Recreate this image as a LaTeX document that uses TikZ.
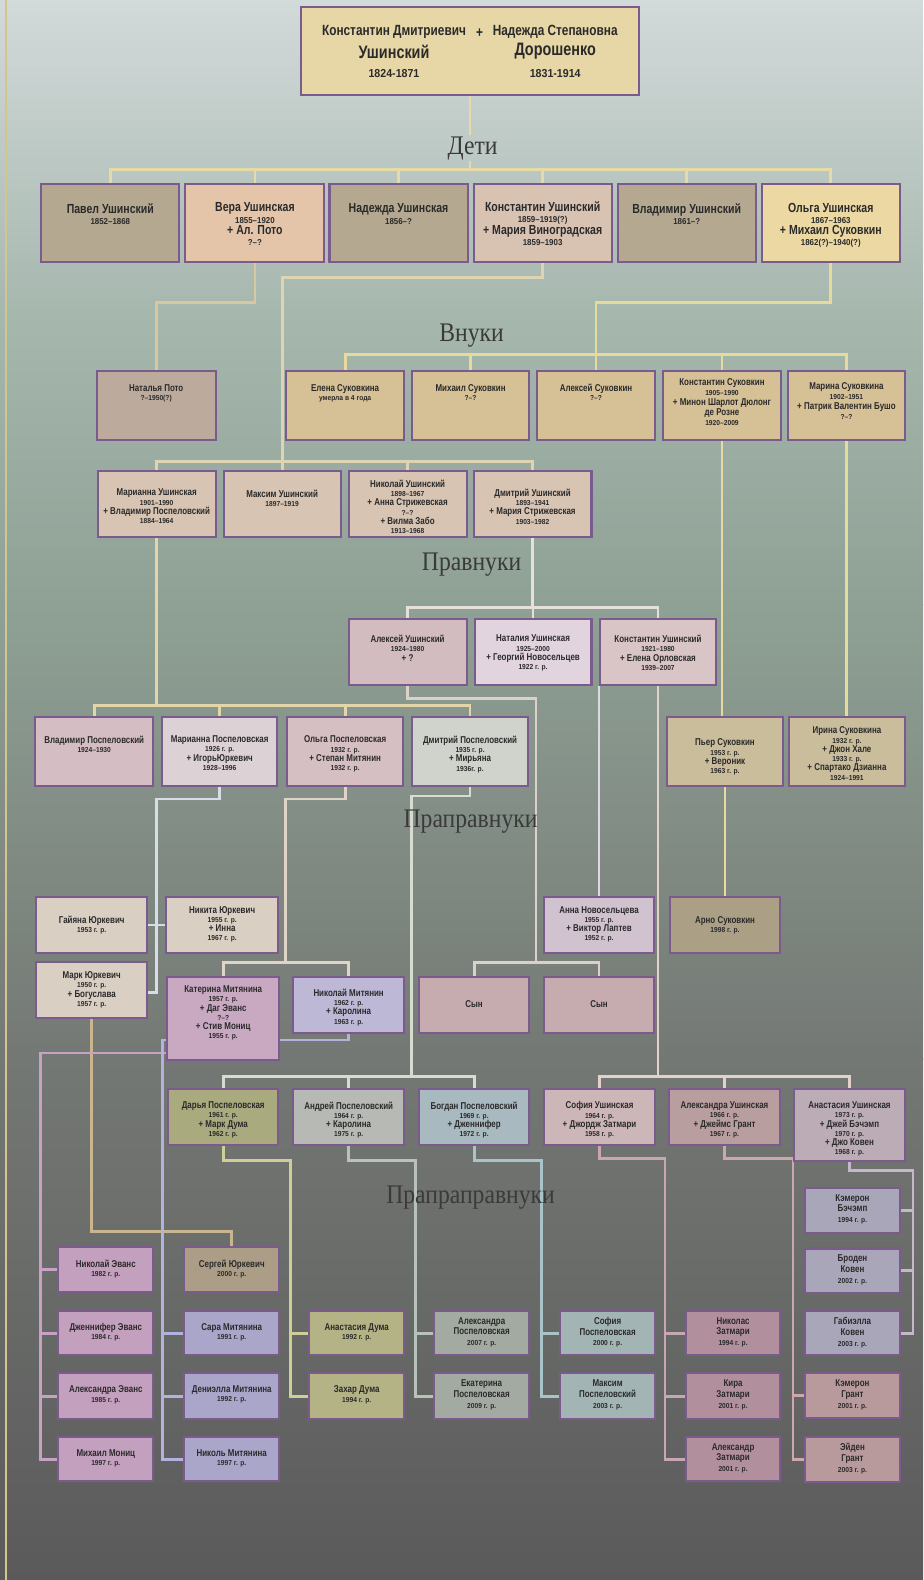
\documentclass[tikz,border=0pt]{standalone}
\usepackage{fontspec}
\newfontfamily\cond{Liberation Sans}[FakeStretch=0.8]
\newfontfamily\condY{Liberation Sans}[FakeStretch=0.92]
\newfontfamily\lblf{Liberation Serif}[FakeStretch=0.88]
\usetikzlibrary{calc}
\pgfdeclarelayer{bgl}
\pgfdeclarelayer{lnl}
\pgfsetlayers{bgl,lnl,main}
% colours
\definecolor{bord}{HTML}{7B5B8E}
\definecolor{txtc}{HTML}{2A2A2A}
\definecolor{labc}{HTML}{3A3A3A}
\definecolor{bgA}{HTML}{D3DADA}
\definecolor{bgB}{HTML}{A7B8AF}
\definecolor{bgC}{HTML}{8FA195}
\definecolor{bgD}{HTML}{747874}
\definecolor{bgE}{HTML}{5A5A5A}
\definecolor{edge}{HTML}{D4C48E}
\definecolor{fTop}{HTML}{E7D6A6}
\definecolor{fGray}{HTML}{B4A890}
\definecolor{fVera}{HTML}{E4C5AA}
\definecolor{fKU}{HTML}{D8C2B2}
\definecolor{fOl}{HTML}{ECD8A2}
\definecolor{fNat}{HTML}{BCAB9C}
\definecolor{fSuk}{HTML}{D6C096}
\definecolor{fPrav}{HTML}{D7C4B3}
\definecolor{fRa}{HTML}{D2BCC0}
\definecolor{fRb}{HTML}{E2D4DF}
\definecolor{fRc}{HTML}{D9C5C6}
\definecolor{fSa}{HTML}{D4BEC3}
\definecolor{fSb}{HTML}{DCD2D6}
\definecolor{fSc}{HTML}{D6BFC3}
\definecolor{fSd}{HTML}{CFD3CC}
\definecolor{fPier}{HTML}{C9BD9C}
\definecolor{fU}{HTML}{D9CFC3}
\definecolor{fVa}{HTML}{C9A8C1}
\definecolor{fVb}{HTML}{BCB8D6}
\definecolor{fSon}{HTML}{C6ACAF}
\definecolor{fAnna}{HTML}{D0C2CF}
\definecolor{fArno}{HTML}{AB9F86}
\definecolor{fTa}{HTML}{A9AA7E}
\definecolor{fTb}{HTML}{B7BAB4}
\definecolor{fTc}{HTML}{A9B9C0}
\definecolor{fTd}{HTML}{CDB6B8}
\definecolor{fTe}{HTML}{B99E9F}
\definecolor{fTf}{HTML}{BBACB6}
\definecolor{fA}{HTML}{C3A0BD}
\definecolor{fBa}{HTML}{AB9D86}
\definecolor{fB}{HTML}{A9A6CA}
\definecolor{fC}{HTML}{B4B386}
\definecolor{fD}{HTML}{A3AAA2}
\definecolor{fE}{HTML}{A3B4B5}
\definecolor{fF}{HTML}{B28F9D}
\definecolor{fK}{HTML}{A9A6B9}
\definecolor{fH}{HTML}{B89A9C}
% connector colours
\definecolor{cTop}{HTML}{E6DBA8}
\definecolor{cVera}{HTML}{D9C7A0}
\definecolor{cKU}{HTML}{DED3B3}
\definecolor{cOl}{HTML}{E8DA9E}
\definecolor{cDm}{HTML}{E6E0DA}
\definecolor{cMa}{HTML}{E3D5AA}
\definecolor{cAl}{HTML}{DCD0C8}
\definecolor{cNa}{HTML}{E0D8E0}
\definecolor{cKo}{HTML}{E2D2CA}
\definecolor{cYu}{HTML}{D8DCE6}
\definecolor{cMi}{HTML}{E0D4C8}
\definecolor{cDp}{HTML}{D6DCD0}
\definecolor{cMk}{HTML}{C9B68E}
\definecolor{cA}{HTML}{C8A2C4}
\definecolor{cB}{HTML}{B2B2DC}
\definecolor{cC}{HTML}{CFCE98}
\definecolor{cD}{HTML}{B6C2BA}
\definecolor{cE}{HTML}{A8C4C8}
\definecolor{cF}{HTML}{C8A6B4}
\definecolor{cK}{HTML}{C6B8CA}
\definecolor{cH}{HTML}{CCA8AC}
% text macros
\newcommand\Nbig[1]{{\cond\bfseries\fontsize{9.8}{10}\selectfont #1}}
\newcommand\Ybig[1]{{\condY\bfseries\fontsize{6.4}{7}\selectfont #1}}
\newcommand\Nsm[1]{{\cond\bfseries\fontsize{7.4}{8}\selectfont #1}}
\newcommand\Ysm[1]{{\condY\bfseries\fontsize{5.4}{6}\selectfont #1}}
\tikzset{
  box/.style={draw=bord, line width=1.5pt, rectangle, inner sep=0pt},
  txt/.style={anchor=north, align=center, inner sep=0pt, text=txtc,
    font={\fontsize{6}{6.9}\selectfont\lineskiplimit=-10pt}},
  tA/.style={font={\fontsize{6}{8.4}\selectfont\lineskiplimit=-10pt}},
  tC/.style={font={\fontsize{6}{7.6}\selectfont\lineskiplimit=-10pt}},
  tD/.style={font={\fontsize{6}{8}\selectfont\lineskiplimit=-10pt}},
  lab/.style={font={\lblf\fontsize{20}{22}\selectfont}, text=labc, inner sep=1pt},
  ln/.style={draw=#1, line width=2.1pt},
}
% box: [text opts]{name}{x1}{y1}{x2}{y2}{fill}{text top}{text}
\newcommand\bx[9][]{%
  \node[box,fill=#7,minimum width={(#5-#3)*0.75pt},minimum height={(#6-#4)*0.75pt}] (#2) at ({(#3+#5)/2},{(#4+#6)/2}) {};
  \node[txt,#1] (#2t) at ({(#3+#5)/2},#8) {#9};}
\begin{document}
\begin{tikzpicture}[x=0.75pt,y=-0.75pt]
\useasboundingbox (0,0) rectangle (916,1568);
\begin{pgfonlayer}{bgl}
\shade[top color=bgA,bottom color=bgB] (0,0) rectangle (916,301);
\shade[top color=bgB,bottom color=bgC] (0,300) rectangle (916,601);
\shade[top color=bgC,bottom color=bgD] (0,600) rectangle (916,1051);
\shade[top color=bgD,bottom color=bgE] (0,1050) rectangle (916,1568);
\draw[edge,line width=1.3pt] (6,0) -- (6,1568);
\end{pgfonlayer}

% ---------- top couple ----------
\node[box,fill=fTop,minimum width={335*0.75pt},minimum height={87*0.75pt}] (top) at (466.5,50.5) {};
\node[text=txtc,font={\cond\bfseries\fontsize{11}{12}\selectfont}] (tk1) at (391,32) {Константин Дмитриевич};
\node[text=txtc,font={\cond\bfseries\fontsize{11}{12}\selectfont}] (tplus) at (476,33) {+};
\node[text=txtc,font={\cond\bfseries\fontsize{11}{12}\selectfont}] (tn1) at (551,32) {Надежда Степановна};
\node[text=txtc,font={\cond\bfseries\fontsize{13.4}{14}\selectfont}] (tk2) at (391,51) {Ушинский};
\node[text=txtc,font={\cond\bfseries\fontsize{13.4}{14}\selectfont}] (tn2) at (551,51) {Дорошенко};
\node[text=txtc,font={\condY\bfseries\fontsize{8.6}{9}\selectfont}] (tk3) at (391,73) {1824-1871};
\node[text=txtc,font={\condY\bfseries\fontsize{8.6}{9}\selectfont}] (tn3) at (551,73) {1831-1914};

% ---------- generation labels ----------
\node[lab] (Ldeti) at (469,147) {Дети};
\node[lab] (Lvnuki) at (468,333) {Внуки};
\node[lab] (Lprav) at (468,560) {Правнуки};
\node[lab] (Lprapr) at (467,815) {Праправнуки};
\node[lab] (Lpraprapr) at (467,1188) {Прапраправнуки};

% ---------- children ----------
\bx[tA]{P1}{41}{183}{178}{260}{fGray}{202}{\Nbig{Павел Ушинский}\\\Ybig{1852–1868}}
\bx[tA]{P2}{184}{183}{322}{260}{fVera}{201}{\Nbig{Вера Ушинская}\\\Ybig{1855–1920}\\\Nbig{+ Ал. Пото}\\\Ybig{?–?}}
\bx[tA]{P3}{327}{183}{464}{260}{fGray}{202}{\Nbig{Надежда Ушинская}\\\Ybig{1856–?}}
\bx[tA]{P4}{470}{183}{607}{260}{fKU}{200}{\Nbig{Константин Ушинский}\\\Ybig{1859–1919(?)}\\\Nbig{+ Мария Виноградская}\\\Ybig{1859–1903}}
\bx[tA]{P5}{613}{183}{750}{260}{fGray}{202}{\Nbig{Владимир Ушинский}\\\Ybig{1861–?}}
\bx[tA]{P6}{756}{183}{893}{260}{fOl}{201}{\Nbig{Ольга Ушинская}\\\Ybig{1867–1963}\\\Nbig{+ Михаил Суковкин}\\\Ybig{1862(?)–1940(?)}}

% ---------- grandchildren ----------
\bx{G0}{96}{368}{214}{437}{fNat}{381}{\Nsm{Наталья Пото}\\\Ysm{?–1950(?)}}
\bx{G1}{284}{368}{401}{437}{fSuk}{381}{\Nsm{Елена Суковкина}\\\Ysm{умерла в 4 года}}
\bx{G2}{409}{368}{525}{437}{fSuk}{381}{\Nsm{Михаил Суковкин}\\\Ysm{?–?}}
\bx{G3}{533}{368}{650}{437}{fSuk}{381}{\Nsm{Алексей Суковкин}\\\Ysm{?–?}}
\bx[tC]{G4}{658}{368}{775}{437}{fSuk}{375}{\Nsm{Константин Суковкин}\\\Ysm{1905–1990}\\\Nsm{+ Минон Шарлот Дюлонг}\\\Nsm{де Розне}\\\Ysm{1920–2009}}
\bx[tC]{G5}{782}{368}{898}{437}{fSuk}{379}{\Nsm{Марина Суковкина}\\\Ysm{1902–1951}\\\Nsm{+ Патрик Валентин Бушо}\\\Ysm{?–?}}

% ---------- great-grandchildren ----------
\bx{M1}{97}{467}{214}{533}{fPrav}{485}{\Nsm{Марианна Ушинская}\\\Ysm{1901–1990}\\\Nsm{+ Владимир Поспеловский}\\\Ysm{1884–1964}}
\bx{M2}{222}{467}{338}{533}{fPrav}{486}{\Nsm{Максим Ушинский}\\\Ysm{1897–1919}}
\bx{M3}{346}{467}{463}{533}{fPrav}{476}{\Nsm{Николай Ушинский}\\\Ysm{1898–1967}\\\Nsm{+ Анна Стрижевская}\\\Ysm{?–?}\\\Nsm{+ Вилма Забо}\\\Ysm{1913–1968}}
\bx{M4}{470}{467}{587}{533}{fPrav}{485}{\Nsm{Дмитрий Ушинский}\\\Ysm{1893–1941}\\\Nsm{+ Мария Стрижевская}\\\Ysm{1903–1982}}

\bx{R1}{346}{614}{463}{680}{fRa}{630}{\Nsm{Алексей Ушинский}\\\Ysm{1924–1980}\\\Nsm{+ ?}}
\bx{R2}{471}{614}{587}{680}{fRb}{630}{\Nsm{Наталия Ушинская}\\\Ysm{1925–2000}\\\Nsm{+ Георгий Новосельцев}\\\Ysm{1922 г. р.}}
\bx{R3}{595}{614}{711}{680}{fRc}{630}{\Nsm{Константин Ушинский}\\\Ysm{1921–1980}\\\Nsm{+ Елена Орловская}\\\Ysm{1939–2007}}

% ---------- great-great-grandchildren ----------
\bx{S1}{35}{712}{152}{780}{fSa}{730}{\Nsm{Владимир Поспеловский}\\\Ysm{1924–1930}}
\bx{S2}{161}{712}{275}{780}{fSb}{730}{\Nsm{Марианна Поспеловская}\\\Ysm{1926 г. р.}\\\Nsm{+ ИгорьЮркевич}\\\Ysm{1928–1996}}
\bx{S3}{285}{712}{400}{780}{fSc}{730}{\Nsm{Ольга Поспеловская}\\\Ysm{1932 г. р.}\\\Nsm{+ Степан Митянин}\\\Ysm{1932 г. р.}}
\bx{S4}{409}{712}{524}{780}{fSd}{730}{\Nsm{Дмитрий Поспеловский}\\\Ysm{1935 г. р.}\\\Nsm{+ Мирьяна}\\\Ysm{1936г. р.}}
\bx{Pier}{662}{712}{777}{780}{fPier}{733}{\Nsm{Пьер Суковкин}\\\Ysm{1953 г. р.}\\\Nsm{+ Вероник}\\\Ysm{1963 г. р.}}
\bx{Irina}{783}{712}{898}{780}{fPier}{721}{\Nsm{Ирина Суковкина}\\\Ysm{1932 г. р.}\\\Nsm{+ Джон Хале}\\\Ysm{1933 г. р.}\\\Nsm{+ Спартако Дзианна}\\\Ysm{1924–1991}}

\bx{U1}{36}{890}{146}{946}{fU}{909}{\Nsm{Гайяна Юркевич}\\\Ysm{1953 г. р.}}
\bx{U2}{165}{890}{276}{946}{fU}{899}{\Nsm{Никита Юркевич}\\\Ysm{1955 г. р.}\\\Nsm{+ Инна}\\\Ysm{1967 г. р.}}
\bx{U3}{36}{955}{146}{1010}{fU}{964}{\Nsm{Марк Юркевич}\\\Ysm{1950 г. р.}\\\Nsm{+ Богуслава}\\\Ysm{1957 г. р.}}
\bx{V1}{166}{970}{277}{1052}{fVa}{978}{\Nsm{Катерина Митянина}\\\Ysm{1957 г. р.}\\\Nsm{+ Даг Эванс}\\\Ysm{?–?}\\\Nsm{+ Стив Мониц}\\\Ysm{1955 г. р.}}
\bx{V2}{291}{970}{401}{1025}{fVb}{981}{\Nsm{Николай Митянин}\\\Ysm{1962 г. р.}\\\Nsm{+ Каролина}\\\Ysm{1963 г. р.}}
\bx{Son1}{416}{970}{525}{1025}{fSon}{993}{\Nsm{Сын}}
\bx{Son2}{540}{970}{649}{1025}{fSon}{993}{\Nsm{Сын}}
\bx{Anna}{540}{890}{649}{946}{fAnna}{899}{\Nsm{Анна Новосельцева}\\\Ysm{1955 г. р.}\\\Nsm{+ Виктор Лаптев}\\\Ysm{1952 г. р.}}
\bx{Arno}{665}{890}{774}{946}{fArno}{909}{\Nsm{Арно Суковкин}\\\Ysm{1998 г. р.}}

\bx{T1}{167}{1081}{276}{1136}{fTa}{1093}{\Nsm{Дарья Поспеловская}\\\Ysm{1961 г. р.}\\\Nsm{+ Марк Дума}\\\Ysm{1962 г. р.}}
\bx{T2}{291}{1081}{401}{1136}{fTb}{1093}{\Nsm{Андрей Поспеловский}\\\Ysm{1964 г. р.}\\\Nsm{+ Каролина}\\\Ysm{1975 г. р.}}
\bx{T3}{416}{1081}{525}{1136}{fTc}{1093}{\Nsm{Богдан Поспеловский}\\\Ysm{1969 г. р.}\\\Nsm{+ Дженнифер}\\\Ysm{1972 г. р.}}
\bx{T4}{540}{1081}{650}{1136}{fTd}{1093}{\Nsm{София Ушинская}\\\Ysm{1964 г. р.}\\\Nsm{+ Джордж Затмари}\\\Ysm{1958 г. р.}}
\bx{T5}{664}{1081}{774}{1136}{fTe}{1093}{\Nsm{Александра Ушинская}\\\Ysm{1966 г. р.}\\\Nsm{+ Джеймс Грант}\\\Ysm{1967 г. р.}}
\bx{T6}{788}{1081}{898}{1152}{fTf}{1093}{\Nsm{Анастасия Ушинская}\\\Ysm{1973 г. р.}\\\Nsm{+ Джей Бэчэмп}\\\Ysm{1970 г. р.}\\\Nsm{+ Джо Ковен}\\\Ysm{1968 г. р.}}

% ---------- youngest generation ----------
\bx{A1}{58}{1238}{152}{1282}{fA}{1250}{\Nsm{Николай Эванс}\\\Ysm{1982 г. р.}}
\bx{A2}{58}{1301}{152}{1345}{fA}{1313}{\Nsm{Дженнифер Эванс}\\\Ysm{1984 г. р.}}
\bx{A3}{58}{1363}{152}{1408}{fA}{1375}{\Nsm{Александра Эванс}\\\Ysm{1985 г. р.}}
\bx{A4}{58}{1426}{152}{1470}{fA}{1438}{\Nsm{Михаил Мониц}\\\Ysm{1997 г. р.}}
\bx{B1}{183}{1238}{277}{1282}{fBa}{1250}{\Nsm{Сергей Юркевич}\\\Ysm{2000 г. р.}}
\bx{B2}{183}{1301}{277}{1345}{fB}{1313}{\Nsm{Сара Митянина}\\\Ysm{1991 г. р.}}
\bx{B3}{183}{1363}{277}{1408}{fB}{1375}{\Nsm{Дениэлла Митянина}\\\Ysm{1992 г. р.}}
\bx{B4}{183}{1426}{277}{1470}{fB}{1438}{\Nsm{Николь Митянина}\\\Ysm{1997 г. р.}}
\bx{C2}{307}{1301}{401}{1345}{fC}{1313}{\Nsm{Анастасия Дума}\\\Ysm{1992 г. р.}}
\bx{C3}{307}{1363}{401}{1408}{fC}{1375}{\Nsm{Захар Дума}\\\Ysm{1994 г. р.}}
\bx[tD]{D2}{431}{1301}{525}{1345}{fD}{1307}{\Nsm{Александра}\\\Nsm{Поспеловская}\\\Ysm{2007 г. р.}}
\bx[tD]{D3}{431}{1363}{525}{1408}{fD}{1369}{\Nsm{Екатерина}\\\Nsm{Поспеловская}\\\Ysm{2009 г. р.}}
\bx[tD]{E2}{556}{1301}{650}{1345}{fE}{1307}{\Nsm{София}\\\Nsm{Поспеловская}\\\Ysm{2000 г. р.}}
\bx[tD]{E3}{556}{1363}{650}{1408}{fE}{1369}{\Nsm{Максим}\\\Nsm{Поспеловский}\\\Ysm{2003 г. р.}}
\bx[tD]{F2}{681}{1301}{774}{1345}{fF}{1307}{\Nsm{Николас}\\\Nsm{Затмари}\\\Ysm{1994 г. р.}}
\bx[tD]{F3}{681}{1363}{774}{1408}{fF}{1369}{\Nsm{Кира}\\\Nsm{Затмари}\\\Ysm{2001 г. р.}}
\bx[tD]{F4}{681}{1426}{774}{1470}{fF}{1432}{\Nsm{Александр}\\\Nsm{Затмари}\\\Ysm{2001 г. р.}}
\bx[tD]{K1}{799}{1179}{893}{1224}{fK}{1185}{\Nsm{Кэмерон}\\\Nsm{Бэчэмп}\\\Ysm{1994 г. р.}}
\bx[tD]{K2}{799}{1239}{893}{1283}{fK}{1245}{\Nsm{Броден}\\\Nsm{Ковен}\\\Ysm{2002 г. р.}}
\bx[tD]{K3}{799}{1301}{893}{1345}{fK}{1307}{\Nsm{Габиэлла}\\\Nsm{Ковен}\\\Ysm{2003 г. р.}}
\bx[tD]{H3}{799}{1363}{893}{1407}{fH}{1369}{\Nsm{Кэмерон}\\\Nsm{Грант}\\\Ysm{2001 г. р.}}
\bx[tD]{H4}{799}{1426}{893}{1471}{fH}{1432}{\Nsm{Эйден}\\\Nsm{Грант}\\\Ysm{2003 г. р.}}

% ---------- connectors ----------
\begin{pgfonlayer}{lnl}
\coordinate (sonc) at (532,955);
\coordinate (yk) at (155,985);
\coordinate (mitc) at (283,955);
\coordinate (dpc) at (408,1068);
\coordinate (catL) at (40,1045);
\coordinate (nmL) at (161,1032);
\coordinate (daL) at (288,1152);
\coordinate (anL) at (412,1152);
\coordinate (boL) at (537,1152);
\coordinate (soL) at (660,1150);
\coordinate (alL) at (787,1150);
\coordinate (asL) at (906,1162);

\draw[ln=cTop] (top.south) -- (top.south|-Ldeti.north);
\draw[ln=cTop] (top.south|-Ldeti.south) -- (top.south|-0,168);
\draw[ln=cTop] (P1.north) -- (P1.north|-0,168) -- (P6.north|-0,168) -- (P6.north);
\foreach \n in {P2,P3,P4,P5} \draw[ln=cTop] (\n.north) -- (\n.north|-0,168);

\draw[ln=cVera] (P2.south) -- (P2.south|-0,300) -| (G0.north);
\draw[ln=cKU] (P4.south) -- (P4.south|-0,275) -| (M2.north);
\draw[ln=cKU] (M1.north) -- (M1.north|-0,458) -| (M4.north);
\draw[ln=cKU] (M3.north) -- (M3.north|-0,458);
\draw[ln=cOl] (P6.south) -- (P6.south|-0,300) -| (G3.north);
\draw[ln=cOl] (G1.north) -- (G1.north|-0,352) -| (G5.north);
\foreach \n in {G2,G4} \draw[ln=cOl] (\n.north) -- (\n.north|-0,352);
\draw[ln=cOl] (G4.south) -- (G4.south|-Pier.north);
\draw[ln=cOl] (G5.south) -- (G5.south|-Irina.north);
\draw[ln=cOl] (Pier.south) -- (Pier.south|-Arno.north);

\draw[ln=cDm] (M4.south) -- (M4.south|-0,603);
\draw[ln=cDm] (R1.north) -- (R1.north|-0,603) -| (R3.north);
\draw[ln=cDm] (R2.north) -- (R2.north|-0,603);
\draw[ln=cMa] (M1.south) -- (M1.south|-0,700);
\draw[ln=cMa] (S1.north) -- (S1.north|-0,700) -| (S4.north);
\foreach \n in {S2,S3} \draw[ln=cMa] (\n.north) -- (\n.north|-0,700);

\draw[ln=cAl] (R1.south) -- (R1.south|-0,693) -| (sonc);
\draw[ln=cAl] (Son1.north) -- (Son1.north|-sonc) -| (Son2.north);
\draw[ln=cNa] (Anna.north) -- (Anna.north|-R2.south);
\draw[ln=cKo] (R3.south) -- (R3.south|-0,1068);
\draw[ln=cKo] (T4.north) -- (T4.north|-0,1068) -| (T6.north);
\draw[ln=cKo] (T5.north) -- (T5.north|-0,1068);

\draw[ln=cYu] (S2.south) -- (S2.south|-0,793) -| (yk) -- (yk-|U3.east);
\draw[ln=cYu] (U1.east) -- (U2.west);
\draw[ln=cMi] (S3.south) -- (S3.south|-0,793) -| (mitc);
\draw[ln=cMi] (V1.north) -- (V1.north|-mitc) -| (V2.north);
\draw[ln=cDp] (S4.south) -- (S4.south|-0,790) -| (dpc);
\draw[ln=cDp] (T1.north) -- (T1.north|-dpc) -| (T3.north);
\draw[ln=cDp] (T2.north) -- (T2.north|-dpc);

\draw[ln=cMk] (U3.south) -- (U3.south|-0,1222) -| (B1.north);
\draw[ln=cA] (V1.west|-catL) -- (catL) -- (catL|-A4.west) -- (A4.west);
\foreach \n in {A1,A2,A3} \draw[ln=cA] (catL|-\n.west) -- (\n.west);
\draw[ln=cB] (V2.south) -- (V2.south|-nmL) -- (nmL) -- (nmL|-B4.west) -- (B4.west);
\foreach \n in {B2,B3} \draw[ln=cB] (nmL|-\n.west) -- (\n.west);
\draw[ln=cC] (T1.south) -- (T1.south|-daL) -- (daL) -- (daL|-C3.west) -- (C3.west);
\draw[ln=cC] (daL|-C2.west) -- (C2.west);
\draw[ln=cD] (T2.south) -- (T2.south|-anL) -- (anL) -- (anL|-D3.west) -- (D3.west);
\draw[ln=cD] (anL|-D2.west) -- (D2.west);
\draw[ln=cE] (T3.south) -- (T3.south|-boL) -- (boL) -- (boL|-E3.west) -- (E3.west);
\draw[ln=cE] (boL|-E2.west) -- (E2.west);
\draw[ln=cF] (T4.south) -- (T4.south|-soL) -- (soL) -- (soL|-F4.west) -- (F4.west);
\foreach \n in {F2,F3} \draw[ln=cF] (soL|-\n.west) -- (\n.west);
\draw[ln=cH] (T5.south) -- (T5.south|-alL) -- (alL) -- (alL|-H4.west) -- (H4.west);
\draw[ln=cH] (alL|-H3.west) -- (H3.west);
\draw[ln=cK] (T6.south) -- (T6.south|-asL) -- (asL) -- (asL|-K3.east) -- (K3.east);
\foreach \n in {K1,K2} \draw[ln=cK] (asL|-\n.east) -- (\n.east);
\end{pgfonlayer}
\end{tikzpicture}
\end{document}
